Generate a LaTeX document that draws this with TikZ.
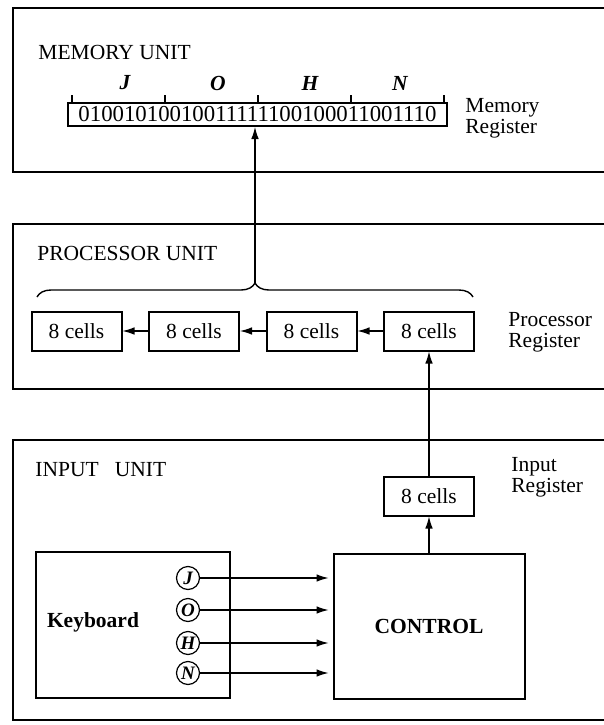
\documentclass[tikz,border=0pt]{standalone}
\usepackage{fontspec}
\setmainfont{Liberation Serif}
\usepackage{tikz}
\usetikzlibrary{arrows.meta, positioning, decorations.pathreplacing}
\newcommand{\dgmfont}{\fontsize{10.75}{10.5}\selectfont}
\newcommand{\bitfont}{\fontsize{11.4}{12}\selectfont}

\begin{document}
\begin{tikzpicture}[x=0.5pt, y=-0.5pt, >={Latex[length=6pt,width=3.8pt]},
	every node/.style={font=\dgmfont},
	Unit/.style={line width=1.1pt},
	Box/.style={draw, line width=1pt, inner sep=0pt},
	Cell/.style={Box, minimum width=45pt, minimum height=19.5pt},
	Key/.style={draw, circle, line width=0.6pt, inner sep=0pt, minimum size=11.5pt, font=\fontsize{9.5}{10}\selectfont\bfseries\itshape},
	Lbl/.style={inner sep=0pt, anchor=west, align=left},
	Wire/.style={->, line width=0.6pt}]
\useasboundingbox (0,0) rectangle (604,725);
% Units
\draw[Unit] (610,8) -| (13,172) -- (610,172);
\draw[Unit] (610,224) -| (13,389) -- (610,389);
\draw[Unit] (610,440) -| (13,720) -- (610,720);
\node[Lbl] (mu) at (38,52) {MEMORY UNIT};
\node[Lbl] (pu) at (37,253) {PROCESSOR UNIT};
\node[Lbl] (iu) at (35,470) {INPUT\hspace{0.75em}UNIT};
% Memory register
\node[Box, minimum width=189.5pt, minimum height=11.5pt, font=\bitfont] (mreg) at (257.5,114.5) {01001010010011111100100011001110};
\foreach \i in {0,...,4}
	\draw[line width=0.6pt] (72+93*\i,103) -- ++(0,-8);
\foreach \l/\x in {J/125,O/218,H/310,N/400}
	\node[font=\dgmfont\bfseries\itshape] (m\l) at (\x,83) {\l};
\node[Lbl] (mregl) at (465,118) {Memory\\Register};
% Processor register
\node[Cell] (c4) at (429,331) {8 cells};
\node[Cell, left=12.75pt of c4] (c3) {8 cells};
\node[Cell, left=12.75pt of c3] (c2) {8 cells};
\node[Cell, left=12.75pt of c2] (c1) {8 cells};
\draw[Wire] (c4) -- (c3);
\draw[Wire] (c3) -- (c2);
\draw[Wire] (c2) -- (c1);
\node[Lbl] (pregl) at (508,332) {Processor\\Register};
\draw[decorate, decoration={brace, amplitude=7pt}, line width=0.7pt] (37,297) -- (473,297);
\coordinate (btip) at (255,283);
\draw[Wire] (btip) -- (btip |- mreg.south);
% Input unit
\node[Cell] (ireg) at (429,496) {8 cells};
\node[Lbl] (iregl) at (511,477) {Input\\Register};
\node[Box, minimum width=95.5pt, minimum height=72.5pt, font=\dgmfont\bfseries] (ctrl) at (429,626.5) {CONTROL};
\node[Box, minimum width=97pt, minimum height=73pt] (kbd) at (133,625) {};
\node[font=\dgmfont\bfseries] (kbdl) at (93,622) {Keyboard};
\foreach \l/\y in {J/578,O/610,H/643,N/673}{
	\node[Key] (k\l) at (188,\y) {\l};
	\draw[Wire, shorten >=2pt] (k\l) -- (k\l -| ctrl.west);
}
\draw[Wire] (ctrl) -- (ireg);
\draw[Wire] (ireg) -- (c4);
\end{tikzpicture}
\end{document}
